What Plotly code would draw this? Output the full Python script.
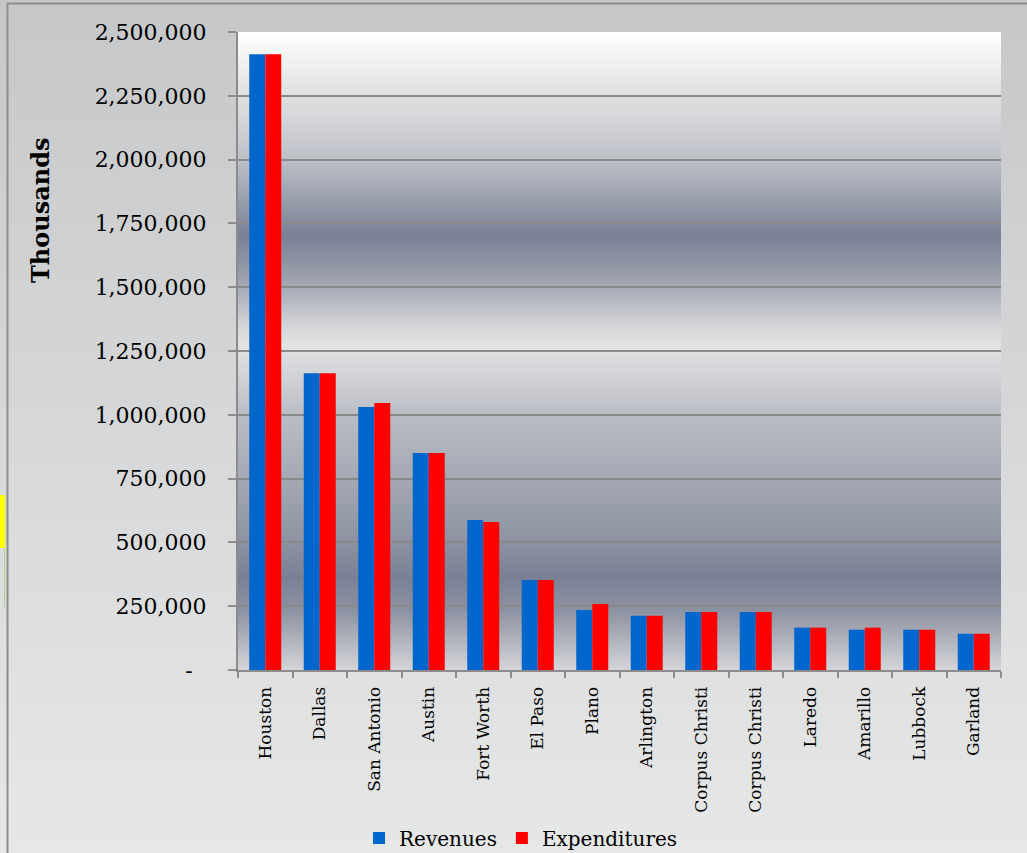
import plotly.graph_objects as go

# ---------------- data ----------------
cities = ["Houston", "Dallas", "San Antonio", "Austin", "Fort Worth", "El Paso", "Plano",
          "Arlington", "Corpus Christi", "Corpus Christi", "Laredo", "Amarillo", "Lubbock", "Garland"]
revenues = [2413000, 1163000, 1031000, 850000, 588000, 353000, 235000,
            213000, 227000, 227000, 166000, 158000, 158000, 142000]
expenditures = [2413000, 1163000, 1046000, 850000, 580000, 353000, 259000,
                213000, 227000, 227000, 166000, 166000, 158000, 142000]
y_ticks = [0, 250000, 500000, 750000, 1000000, 1250000, 1500000, 1750000, 2000000, 2250000, 2500000]
y_labels = ["-\u00a0\u00a0"] + [f"{v:,}" for v in y_ticks[1:]]

# ---------------- layout geometry (pixels) ----------------
W, H = 1027, 853
L, R, T, B = 238, 26, 32, 183
PW, PH = W - L - R, H - T - B

def xp(px):
    return (px - L) / PW

def yp(py):
    return (H - B - py) / PH

def hex2rgb(h):
    h = h.lstrip("#")
    return tuple(int(h[i:i + 2], 16) for i in (0, 2, 4))

def interp(stops, py):
    for (p0, c0), (p1, c1) in zip(stops[:-1], stops[1:]):
        if p0 <= py <= p1:
            t = (py - p0) / (p1 - p0) if p1 > p0 else 0
            a, b = hex2rgb(c0), hex2rgb(c1)
            return "rgb(%d,%d,%d)" % tuple(round(a[i] + (b[i] - a[i]) * t) for i in range(3))
    return stops[-1][1]

# gradient stops (pixel y, colour)
outer_stops = [(0, "#c6c7c9"), (420, "#d6d7d8"), (853, "#e6e7e7")]
plot_stops = [(32, "#ffffff"), (62, "#f0f0f0"), (95, "#e0e0e0"), (130, "#cfd0d4"),
              (160, "#bcbfc7"), (200, "#999eac"), (235, "#7b8196"), (262, "#8e93a3"),
              (292, "#aaaeba"), (322, "#d0d1d5"), (345, "#e3e3e3"), (417, "#b9bcc4"),
              (480, "#a4a8b3"), (540, "#8d93a2"), (578, "#7a8094"), (612, "#8e93a2"),
              (640, "#b0b3bc"), (670, "#d4d5d9")]

shapes = []
step = 4
for py in range(0, H, step):
    shapes.append(dict(type="rect", xref="paper", yref="paper", layer="below",
                       x0=xp(0), x1=xp(W), y0=yp(py + step), y1=yp(py),
                       fillcolor=interp(outer_stops, py + step / 2), line=dict(width=0)))
step = 2
for py in range(T, H - B, step):
    shapes.append(dict(type="rect", xref="paper", yref="paper", layer="below",
                       x0=0, x1=1, y0=yp(min(py + step, H - B)), y1=yp(py),
                       fillcolor=interp(plot_stops, py + step / 2), line=dict(width=0)))

# frame / window artifacts
shapes.append(dict(type="line", xref="paper", yref="paper", layer="below",
                   x0=xp(7), x1=xp(W), y0=yp(3.5), y1=yp(3.5), line=dict(color="#8e8e8e", width=2)))
shapes.append(dict(type="line", xref="paper", yref="paper", layer="below",
                   x0=xp(7.5), x1=xp(7.5), y0=yp(3), y1=yp(H), line=dict(color="#8e8e8e", width=2)))
shapes.append(dict(type="rect", xref="paper", yref="paper", layer="below",
                   x0=xp(0), x1=xp(5), y0=yp(548), y1=yp(495), fillcolor="#ffff00", line=dict(width=0)))
shapes.append(dict(type="line", xref="paper", yref="paper", layer="below",
                   x0=xp(4.5), x1=xp(4.5), y0=yp(607), y1=yp(548), line=dict(color="#a8d88a", width=1)))

x_idx = list(range(len(cities)))
serif = "DejaVu Serif"

fig = go.Figure()
fig.add_trace(go.Bar(x=x_idx, y=revenues, name="Revenues", marker=dict(color="#0066cc", line=dict(width=0))))
fig.add_trace(go.Bar(x=x_idx, y=expenditures, name="Expenditures", marker=dict(color="#ff0000", line=dict(width=0))))

fig.update_layout(
    width=W, height=H,
    margin=dict(l=L, r=R, t=T, b=B, pad=0, autoexpand=False),
    paper_bgcolor="#d6d7d8", plot_bgcolor="rgba(0,0,0,0)",
    barmode="group", bargap=0.413, bargroupgap=0,
    font=dict(family=serif, color="black"),
    shapes=shapes,
    legend=dict(orientation="h", xref="paper", yref="paper", x=xp(521), y=yp(838),
                xanchor="center", yanchor="middle", font=dict(size=20, family=serif),
                bgcolor="rgba(0,0,0,0)", traceorder="normal", itemwidth=30),
    annotations=[dict(text="<b>Thousands</b>", textangle=-90, xref="paper", yref="paper",
                      x=xp(40), y=yp(210), showarrow=False, xanchor="center", yanchor="middle",
                      font=dict(size=24, family=serif, color="black"))],
)
fig.update_xaxes(
    range=[-0.5, len(cities) - 0.5], tickmode="array", tickvals=x_idx, ticktext=cities,
    tickangle=-90, ticks="", ticklabelstandoff=8, tickfont=dict(size=17, family=serif),
    showline=True, linecolor="#8c8c8c", linewidth=2, showgrid=False, zeroline=False, automargin=False,
    minor=dict(ticks="outside", tick0=0.5, dtick=1, ticklen=6, tickwidth=2, tickcolor="#8c8c8c", showgrid=False),
)
fig.update_yaxes(
    range=[0, 2500000], tickmode="array", tickvals=y_ticks, ticktext=y_labels,
    ticks="outside", ticklen=8, tickwidth=2, tickcolor="#8c8c8c", ticklabelstandoff=17,
    tickfont=dict(size=22, family=serif), automargin=False,
    showline=True, linecolor="#8c8c8c", linewidth=2,
    showgrid=True, gridcolor="#8a8a8a", gridwidth=2, zeroline=False,
)

fig.write_html("out.html")
